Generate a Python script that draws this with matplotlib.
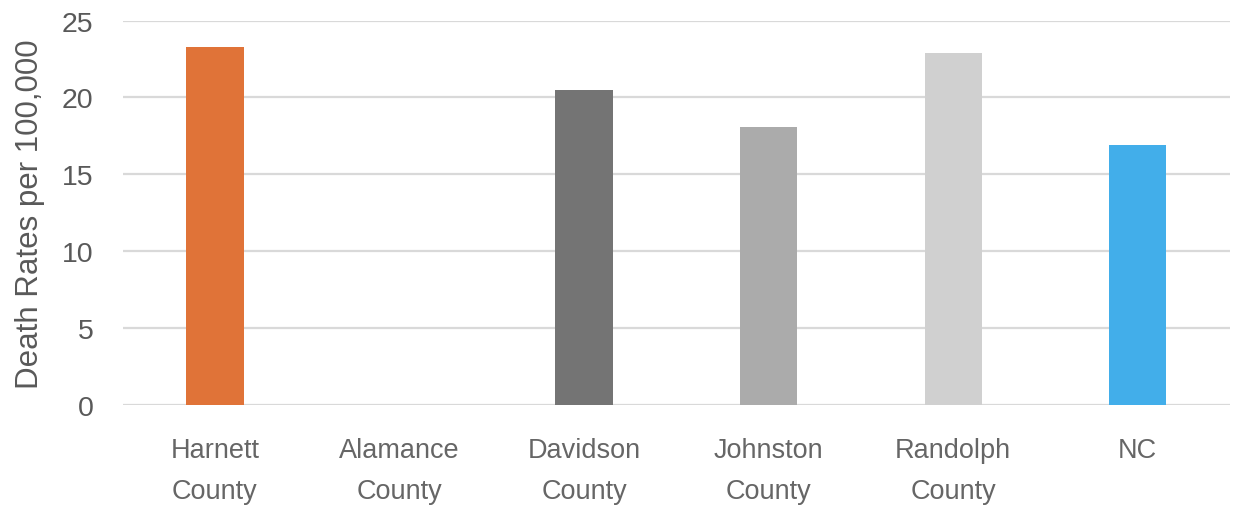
import matplotlib
matplotlib.use('Agg')
import matplotlib.pyplot as plt
import numpy as np

plt.rcParams['font.family'] = ['Liberation Sans', 'DejaVu Sans']

counties = ['Harnett\nCounty', 'Alamance\nCounty', 'Davidson\nCounty',
            'Johnston\nCounty', 'Randolph\nCounty', 'NC']
death_rates = [23.3, 0.0, 20.5, 18.1, 22.9, 16.9]
bar_colors = ['#E07338', '#E07338', '#747474', '#ABABAB', '#D0D0D0', '#42AEEA']
y_ticks = [0, 5, 10, 15, 20, 25]

fig = plt.figure(figsize=(12.33, 5.06), dpi=100)
ax = fig.add_axes([0.0995, 0.1976, 0.898, 0.7599])

x = np.arange(len(counties))
ax.bar(x, death_rates, width=0.31, color=bar_colors, zorder=3)

ax.set_xlim(-0.5, len(counties) - 0.5)
ax.set_ylim(0, 25)
ax.set_yticks(y_ticks)
ax.set_xticks(x)
ax.set_xticklabels(counties, fontsize=19.5, color='#666666', linespacing=1.75)
ax.tick_params(axis='y', labelsize=20.5, labelcolor='#595959', length=0, pad=21)
ax.tick_params(axis='x', length=0, pad=23)

ax.grid(axis='y', color='#D9D9D9', linewidth=1.6, zorder=0)
for side in ['top', 'right', 'left', 'bottom']:
    ax.spines[side].set_visible(False)

ax.set_ylabel('Death Rates per 100,000', fontsize=22.5, color='#595959')
ax.yaxis.set_label_coords(-0.07, 0.5)

plt.savefig('out.png', dpi=100)
print('finished')
